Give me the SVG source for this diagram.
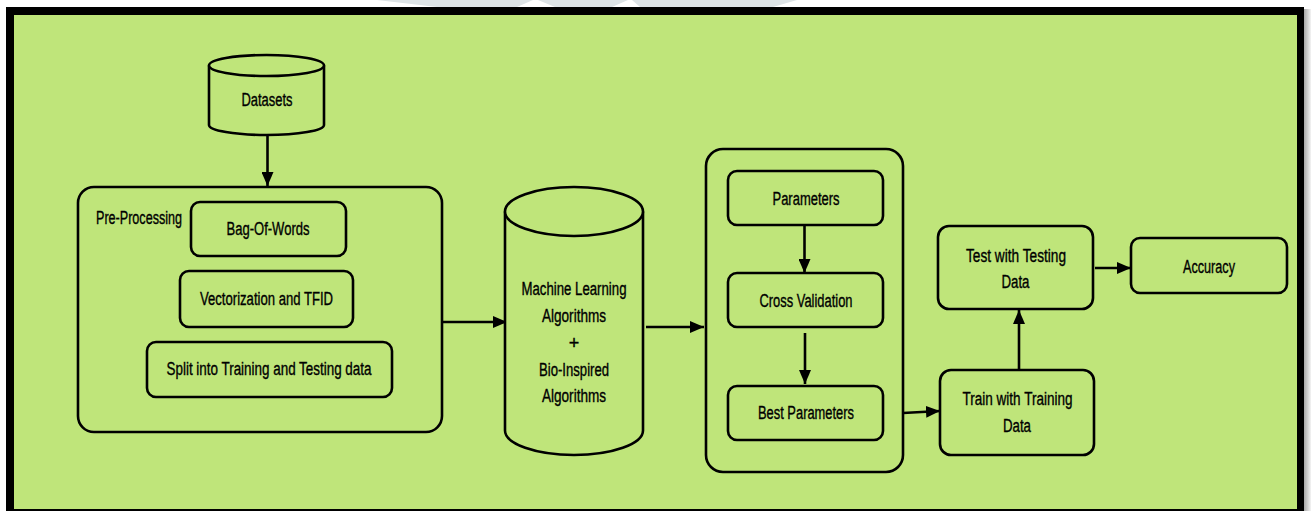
<svg xmlns="http://www.w3.org/2000/svg" width="1311" height="511" viewBox="0 0 1311 511">
  <defs>
    <linearGradient id="shadow" x1="0" y1="0" x2="1" y2="0">
      <stop offset="0" stop-color="#a8a8a8"/>
      <stop offset="1" stop-color="#f4f4f4"/>
    </linearGradient>
    <marker id="arrow" markerUnits="userSpaceOnUse" markerWidth="15" markerHeight="12" refX="14" refY="6" orient="auto">
      <path d="M0,0 L14,6 L0,12 Z" fill="#000"/>
    </marker>
    <style>
      .box { fill: none; stroke: #000; stroke-width: 2.6; }
      .cyl { fill: #bfe57a; stroke: #000; stroke-width: 2.6; }
      .conn { fill: none; stroke: #000; stroke-width: 2.6; marker-end: url(#arrow); }
      text { font-family: "Liberation Sans", Arial, sans-serif; font-size: 18px; fill: #000; stroke: #000; stroke-width: 0.35; }
      .c { text-anchor: middle; }
      .wm { fill: #dde3e6; }
    </style>
  </defs>

  <!-- background, watermark and frame -->
  <rect x="0" y="0" width="1311" height="511" fill="#ffffff"/>
  <g id="watermark">
    <polygon class="wm" points="377,0 533,0 517,7 437,7"/>
    <polygon class="wm" points="538,0 628,0 612,7 555,7"/>
    <polygon class="wm" points="632,0 797,0 773,7 640,7"/>
  </g>
  <rect x="1304" y="9" width="7" height="502" fill="url(#shadow)"/>
  <rect x="6" y="7" width="1298" height="504" fill="#000"/>
  <rect x="14" y="15" width="1283" height="494" fill="#bfe57a"/>

  <!-- connectors -->
  <g id="connectors">
    <line class="conn" x1="267.5" y1="135" x2="267.5" y2="186"/>
    <line class="conn" x1="442" y1="322" x2="507" y2="322"/>
    <line class="conn" x1="646" y1="327" x2="704" y2="327"/>
    <line class="conn" x1="804.5" y1="225" x2="804.5" y2="273"/>
    <line class="conn" x1="805" y1="333" x2="805" y2="384"/>
    <line class="conn" x1="903" y1="413" x2="940" y2="411"/>
    <line class="conn" x1="1019" y1="369" x2="1019" y2="310"/>
    <line class="conn" x1="1095" y1="268" x2="1131" y2="268"/>
  </g>

  <!-- Datasets -->
  <g id="datasets">
    <path class="cyl" d="M209,65.5 L209,125 A57.5,10 0 0 0 324,125 L324,65.5"/>
    <ellipse class="cyl" cx="266.5" cy="65.5" rx="57.5" ry="10.5"/>
    <text class="c" x="267" y="106" textLength="51" lengthAdjust="spacingAndGlyphs">Datasets</text>
  </g>

  <!-- Pre-Processing -->
  <g id="preprocessing">
    <rect class="box" x="78" y="187" width="364" height="245" rx="16"/>
    <text x="96" y="224" textLength="86" lengthAdjust="spacingAndGlyphs">Pre-Processing</text>
  </g>
  <g id="bagofwords">
    <rect class="box" x="191" y="202" width="155" height="54" rx="9"/>
    <text class="c" x="268" y="235" textLength="83" lengthAdjust="spacingAndGlyphs">Bag-Of-Words</text>
  </g>
  <g id="vectorization">
    <rect class="box" x="180" y="271" width="173" height="56" rx="9"/>
    <text class="c" x="266.5" y="305" textLength="133" lengthAdjust="spacingAndGlyphs">Vectorization and TFID</text>
  </g>
  <g id="split">
    <rect class="box" x="147" y="342" width="245" height="55" rx="9"/>
    <text class="c" x="269" y="375" textLength="205" lengthAdjust="spacingAndGlyphs">Split into Training and Testing data</text>
  </g>

  <!-- ML cylinder -->
  <g id="ml">
    <path class="cyl" d="M505,211.5 L505,430.5 A69,24.5 0 0 0 643,430.5 L643,211.5"/>
    <ellipse class="cyl" cx="574" cy="211.5" rx="69" ry="24.5"/>
    <text class="c" x="574" y="295" textLength="105" lengthAdjust="spacingAndGlyphs">Machine Learning</text>
    <text class="c" x="574" y="322" textLength="64" lengthAdjust="spacingAndGlyphs">Algorithms</text>
    <text class="c" x="574" y="349" font-size="14">+</text>
    <text class="c" x="574" y="376" textLength="70" lengthAdjust="spacingAndGlyphs">Bio-Inspired</text>
    <text class="c" x="574" y="402" textLength="64" lengthAdjust="spacingAndGlyphs">Algorithms</text>
  </g>

  <!-- Parameter tuning group -->
  <g id="tuning">
    <rect class="box" x="706" y="149" width="197" height="323" rx="17"/>
  </g>
  <g id="parameters">
    <rect class="box" x="728" y="171" width="155" height="54" rx="9"/>
    <text class="c" x="806" y="205" textLength="67" lengthAdjust="spacingAndGlyphs">Parameters</text>
  </g>
  <g id="crossvalidation">
    <rect class="box" x="728" y="273" width="155" height="54" rx="9"/>
    <text class="c" x="806" y="307" textLength="93" lengthAdjust="spacingAndGlyphs">Cross Validation</text>
  </g>
  <g id="bestparameters">
    <rect class="box" x="728" y="386" width="155" height="54" rx="9"/>
    <text class="c" x="806" y="419" textLength="96" lengthAdjust="spacingAndGlyphs">Best Parameters</text>
  </g>

  <!-- Train / Test / Accuracy -->
  <g id="train">
    <rect class="box" x="940" y="370" width="154" height="85" rx="11"/>
    <text class="c" x="1017.5" y="405" textLength="110" lengthAdjust="spacingAndGlyphs">Train with Training</text>
    <text class="c" x="1017" y="432" textLength="28" lengthAdjust="spacingAndGlyphs">Data</text>
  </g>
  <g id="test">
    <rect class="box" x="938" y="226" width="155" height="83" rx="11"/>
    <text class="c" x="1016" y="262" textLength="100" lengthAdjust="spacingAndGlyphs">Test with Testing</text>
    <text class="c" x="1015.5" y="288" textLength="28" lengthAdjust="spacingAndGlyphs">Data</text>
  </g>
  <g id="accuracy">
    <rect class="box" x="1131" y="238" width="156" height="55" rx="9"/>
    <text class="c" x="1209" y="273" textLength="52" lengthAdjust="spacingAndGlyphs">Accuracy</text>
  </g>
</svg>
